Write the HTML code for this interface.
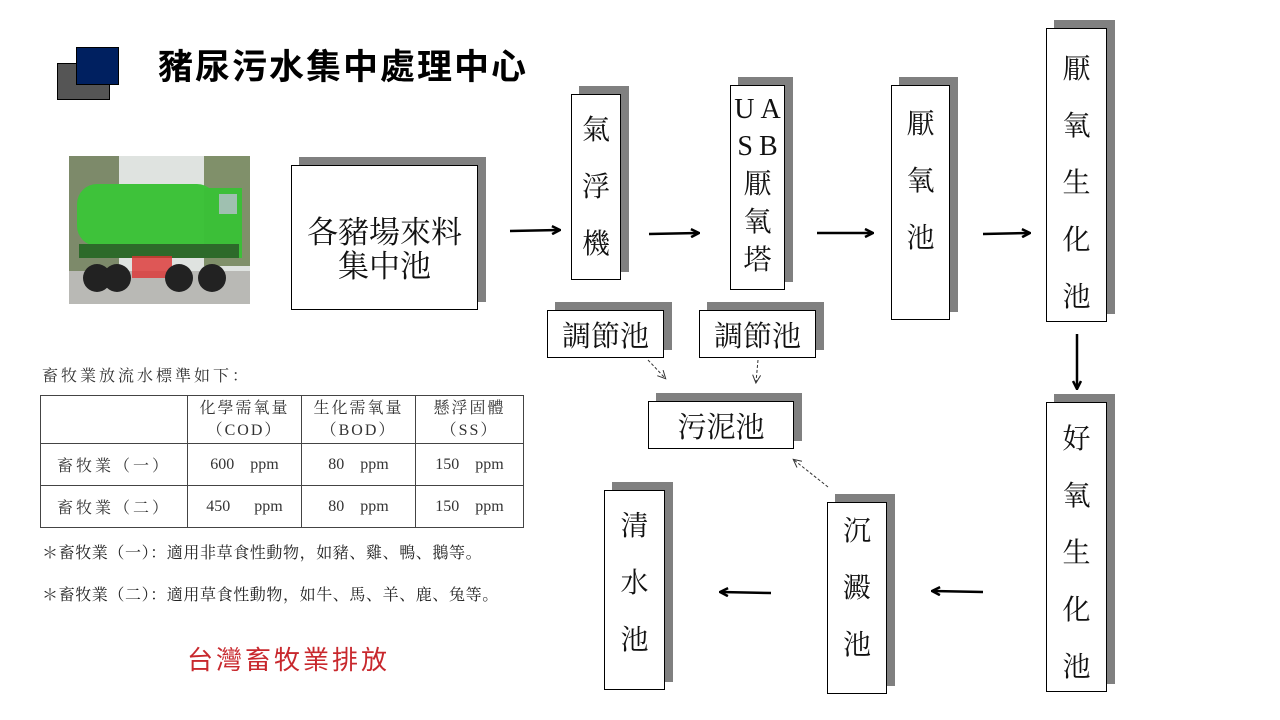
<!DOCTYPE html>
<html><head><meta charset="utf-8"><style>
body{margin:0;width:1280px;height:720px;background:#fff;position:relative;overflow:hidden;font-family:"Liberation Serif","Noto Serif CJK SC",serif;}
.a{position:absolute}
.sh{position:absolute;background:#808080}
.bx{position:absolute;background:#fff;border:1.5px solid #000;box-sizing:border-box;display:flex;align-items:center;justify-content:center;text-align:center;color:#111}
.v{flex-direction:column;font-size:28px;justify-content:flex-start}
.v span{display:block;line-height:57px;height:57px}
table{border-collapse:collapse;font-size:16px;color:#333}
td{border:1.5px solid #444;text-align:center;padding:0}
</style></head><body>
<div class="a" style="left:57px;top:63px;width:53px;height:37px;background:#555;border:1px solid #000;box-sizing:border-box"></div>
<div class="a" style="left:76px;top:47px;width:43px;height:38px;background:#002060;border:1px solid #000;box-sizing:border-box"></div>
<div class="a" style="left:158px;top:46px;font-size:35px;line-height:44px;font-weight:bold;font-family:'Liberation Sans','Noto Sans CJK TC',sans-serif;letter-spacing:2px">豬尿污水集中處理中心</div>

<svg class="a" style="left:69px;top:156px" width="181" height="148">
<rect width="181" height="148" fill="#dfe3e0"/>
<rect x="0" y="0" width="50" height="120" fill="#7d8a6a"/>
<rect x="135" y="0" width="46" height="110" fill="#80906a"/>
<rect x="0" y="115" width="181" height="33" fill="#b9b9b5"/>
<rect x="8" y="28" width="140" height="62" rx="20" fill="#3ec23a"/>
<rect x="135" y="32" width="38" height="70" fill="#3cbf38"/>
<rect x="150" y="38" width="18" height="20" fill="#9fc0b0"/>
<rect x="10" y="88" width="160" height="14" fill="#2d6a2a"/>
<rect x="63" y="100" width="40" height="22" fill="#d33" opacity=".8"/>
<circle cx="28" cy="122" r="14" fill="#222"/><circle cx="48" cy="122" r="14" fill="#222"/>
<circle cx="110" cy="122" r="14" fill="#222"/><circle cx="143" cy="122" r="14" fill="#222"/>
</svg>

<div class="sh" style="left:299px;top:157px;width:187px;height:145px"></div>
<div class="bx" style="left:291px;top:165px;width:187px;height:145px;font-size:31px;line-height:34px;padding-top:24px">各豬場來料<br>集中池</div>

<div class="sh" style="left:579px;top:86px;width:50px;height:186px"></div>
<div class="bx v" style="left:571px;top:94px;width:50px;height:186px;padding-top:7px"><span>氣</span><span>浮</span><span>機</span></div>

<div class="sh" style="left:738px;top:77px;width:55px;height:205px"></div>
<div class="bx v" style="left:730px;top:85px;width:55px;height:205px;padding-top:5px"><span style="line-height:37px;height:37px;letter-spacing:6px;margin-right:-6px">UA</span><span style="line-height:38px;height:38px;letter-spacing:6px;margin-right:-6px">SB</span><span style="line-height:38px;height:38px">厭</span><span style="line-height:38px;height:38px">氧</span><span style="line-height:38px;height:38px">塔</span></div>

<div class="sh" style="left:899px;top:77px;width:59px;height:235px"></div>
<div class="bx v" style="left:891px;top:85px;width:59px;height:235px;padding-top:10px"><span>厭</span><span>氧</span><span>池</span></div>

<div class="sh" style="left:1054px;top:20px;width:61px;height:294px"></div>
<div class="bx v" style="left:1046px;top:28px;width:61px;height:294px;padding-top:12px"><span>厭</span><span>氧</span><span>生</span><span>化</span><span>池</span></div>

<div class="sh" style="left:555px;top:302px;width:117px;height:48px"></div>
<div class="bx" style="left:547px;top:310px;width:117px;height:48px;font-size:29px">調節池</div>
<div class="sh" style="left:707px;top:302px;width:117px;height:48px"></div>
<div class="bx" style="left:699px;top:310px;width:117px;height:48px;font-size:29px">調節池</div>

<div class="sh" style="left:656px;top:393px;width:146px;height:48px"></div>
<div class="bx" style="left:648px;top:401px;width:146px;height:48px;font-size:29px">污泥池</div>

<div class="sh" style="left:1054px;top:394px;width:61px;height:290px"></div>
<div class="bx v" style="left:1046px;top:402px;width:61px;height:290px;padding-top:8px"><span>好</span><span>氧</span><span>生</span><span>化</span><span>池</span></div>

<div class="sh" style="left:835px;top:494px;width:60px;height:192px"></div>
<div class="bx v" style="left:827px;top:502px;width:60px;height:192px;padding-top:0"><span>沉</span><span>澱</span><span>池</span></div>

<div class="sh" style="left:612px;top:482px;width:61px;height:200px"></div>
<div class="bx v" style="left:604px;top:490px;width:61px;height:200px;padding-top:7px"><span>清</span><span>水</span><span>池</span></div>

<svg class="a" style="left:0;top:0" width="1280" height="720">
<defs><marker id="m" markerWidth="10" markerHeight="10" refX="8" refY="5" orient="auto" markerUnits="userSpaceOnUse"><path d="M1,1 L9,5 L1,9" fill="none" stroke="#000" stroke-width="2.5"/></marker>
<marker id="d" markerWidth="10" markerHeight="10" refX="8" refY="5" orient="auto" markerUnits="userSpaceOnUse"><path d="M1,1 L9,5 L1,9" fill="none" stroke="#333" stroke-width="1"/></marker></defs>
<g stroke="#000" stroke-width="2.5" marker-end="url(#m)">
<line x1="510" y1="231" x2="559" y2="230"/>
<line x1="649" y1="234" x2="698" y2="233"/>
<line x1="817" y1="233" x2="872" y2="233"/>
<line x1="983" y1="234" x2="1029" y2="233"/>
<line x1="1077" y1="334" x2="1077" y2="388"/>
<line x1="983" y1="592" x2="933" y2="591"/>
<line x1="771" y1="593" x2="721" y2="592"/>
</g>
<g stroke="#333" stroke-width="1" stroke-dasharray="3,2" marker-end="url(#d)">
<line x1="648" y1="360" x2="665" y2="378"/>
<line x1="758" y1="360" x2="756" y2="382"/>
<line x1="828" y1="487" x2="794" y2="460"/>
</g>
</svg>

<div class="a" style="left:42px;top:363px;font-size:16px;color:#333;letter-spacing:3px">畜牧業放流水標準如下：</div>
<table class="a" style="left:40px;top:395px;width:484px">
<tr style="height:48px"><td style="width:146px"></td><td style="width:113px;line-height:22px;letter-spacing:2px">化學需氧量<br>（COD）</td><td style="width:113px;line-height:22px;letter-spacing:2px">生化需氧量<br>（BOD）</td><td style="line-height:22px;letter-spacing:2px">懸浮固體<br>（SS）</td></tr>
<tr style="height:42px"><td style="letter-spacing:3px">畜牧業（一）</td><td>600&nbsp;&nbsp;&nbsp; ppm</td><td>80&nbsp;&nbsp;&nbsp; ppm</td><td>150&nbsp;&nbsp;&nbsp; ppm</td></tr>
<tr style="height:42px"><td style="letter-spacing:3px">畜牧業（二）</td><td>450&nbsp;&nbsp;&nbsp;&nbsp;&nbsp; ppm</td><td>80&nbsp;&nbsp;&nbsp; ppm</td><td>150&nbsp;&nbsp;&nbsp; ppm</td></tr>
</table>
<div class="a" style="left:42px;top:540px;font-size:16px;color:#222;letter-spacing:0.6px">＊畜牧業（一）：適用非草食性動物，如豬、雞、鴨、鵝等。</div>
<div class="a" style="left:42px;top:582px;font-size:16px;color:#222;letter-spacing:0.6px">＊畜牧業（二）：適用草食性動物，如牛、馬、羊、鹿、兔等。</div>
<div class="a" style="left:187px;top:640px;font-size:26px;color:#c8282d;letter-spacing:3px;font-family:'Liberation Sans','Noto Sans CJK TC',sans-serif">台灣畜牧業排放</div>
</body></html>
